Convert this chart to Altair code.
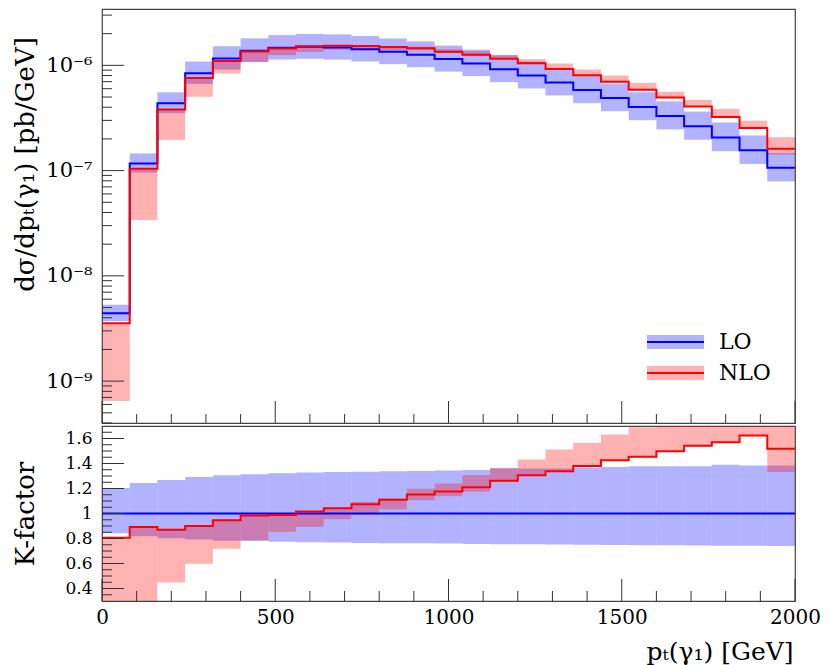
import altair as alt
import pandas as pd

# ---------------- data ----------------
bin_lo = [0, 80, 160, 240, 320, 400, 480, 560, 640, 720, 800, 880, 960,
          1040, 1120, 1200, 1280, 1360, 1440, 1520, 1600, 1680, 1760, 1840, 1920]
bin_hi = [80, 160, 240, 320, 400, 480, 560, 640, 720, 800, 880, 960, 1040,
          1120, 1200, 1280, 1360, 1440, 1520, 1600, 1680, 1760, 1840, 1920, 2000]

# LO central value dsigma/dpT [pb/GeV]
lo_central = [4.41e-9, 1.170e-7, 4.37e-7, 8.41e-7, 1.163e-6, 1.374e-6, 1.466e-6,
              1.498e-6, 1.476e-6, 1.422e-6, 1.345e-6, 1.260e-6, 1.146e-6, 1.044e-6,
              9.17e-7, 8.00e-7, 6.88e-7, 5.83e-7, 4.90e-7, 4.03e-7, 3.30e-7,
              2.64e-7, 2.06e-7, 1.559e-7, 1.064e-7]

# K-factor (NLO / LO central)
k_factor = [0.806, 0.892, 0.870, 0.901, 0.947, 0.985, 0.988, 1.016, 1.042, 1.075,
            1.111, 1.152, 1.177, 1.210, 1.263, 1.307, 1.339, 1.380, 1.427, 1.455,
            1.499, 1.542, 1.570, 1.625, 1.518]

# LO scale band, relative to LO central
lo_band_up = [1.205, 1.245, 1.268, 1.292, 1.307, 1.315, 1.322, 1.328, 1.333, 1.334,
              1.339, 1.341, 1.344, 1.349, 1.362, 1.360, 1.360, 1.368, 1.373, 1.379,
              1.379, 1.379, 1.391, 1.384, 1.384]
lo_band_dn = [0.842, 0.819, 0.803, 0.792, 0.783, 0.780, 0.775, 0.771, 0.768, 0.765,
              0.763, 0.762, 0.760, 0.757, 0.755, 0.754, 0.752, 0.750, 0.749, 0.747,
              0.746, 0.744, 0.742, 0.742, 0.741]

# NLO scale band, relative to LO central
nlo_band_up = [0.810, 0.895, 0.874, 0.905, 0.950, 0.990, 0.992, 1.020, 1.045, 1.092,
               1.120, 1.198, 1.240, 1.307, 1.363, 1.432, 1.512, 1.565, 1.632, 1.690,
               1.700, 1.780, 1.870, 1.910, 1.950]
nlo_band_dn = [0.147, 0.290, 0.448, 0.598, 0.718, 0.787, 0.853, 0.893, 0.955, 0.990,
               1.032, 1.107, 1.139, 1.175, 1.255, 1.300, 1.335, 1.375, 1.422, 1.450,
               1.495, 1.538, 1.566, 1.620, 1.333]

top_major = [1e-9, 1e-8, 1e-7, 1e-6]
top_minor = [m * 10.0 ** e for e in range(-10, -5) for m in range(2, 10)
             if 4.0e-10 <= m * 10.0 ** e <= 3.43e-6]
x_major = [0, 500, 1000, 1500, 2000]
x_minor = [100, 200, 300, 400, 600, 700, 800, 900, 1100, 1200, 1300, 1400,
           1600, 1700, 1800, 1900]
k_major = [0.4, 0.6, 0.8, 1.0, 1.2, 1.4, 1.6]
k_minor = [0.35, 0.45, 0.5, 0.55, 0.65, 0.7, 0.75, 0.85, 0.9, 0.95, 1.05, 1.1,
           1.15, 1.25, 1.3, 1.35, 1.45, 1.5, 1.55, 1.65]

# ---------------- tables ----------------
df = pd.DataFrame({"x0": bin_lo, "x1": bin_hi, "lo": lo_central, "k": k_factor,
                   "lo_up": lo_band_up, "lo_dn": lo_band_dn,
                   "nlo_up": nlo_band_up, "nlo_dn": nlo_band_dn})
df["nlo"] = df["lo"] * df["k"]
df["lo_up_abs"] = df["lo"] * df["lo_up"]
df["lo_dn_abs"] = df["lo"] * df["lo_dn"]
df["nlo_up_abs"] = df["lo"] * df["nlo_up"]
df["nlo_dn_abs"] = df["lo"] * df["nlo_dn"]

steps = pd.DataFrame({
    "x": bin_lo + [bin_hi[-1]],
    "lo": lo_central + [lo_central[-1]],
    "nlo": list(df["nlo"]) + [df["nlo"].iloc[-1]],
    "k": k_factor + [k_factor[-1]],
    "one": [1.0] * (len(bin_lo) + 1),
})

FONT = "DejaVu Serif"
BLUE = "#0000ff"
RED = "#ff0000"
TICK = "#333333"
W = 693
H_TOP = 414
H_BOT = 175

xs = alt.Scale(domain=[0, 2000], nice=False, zero=False)
ys_top = alt.Scale(type="log", domain=[4.0e-10, 3.43e-6], nice=False)
ys_bot = alt.Scale(domain=[0.3, 1.7], nice=False, zero=False)

# axes (the same object is given to every layer of a panel so they merge)
x_axis_top = alt.Axis(labels=False, ticks=False, domain=False, title=None, grid=False)
y_axis_top = alt.Axis(
    values=top_major,
    labelExpr="datum.value < 5e-9 ? '10⁻⁹' : datum.value < 5e-8 ? '10⁻⁸' : datum.value < 5e-7 ? '10⁻⁷' : '10⁻⁶'",
    labelFont=FONT, titleFont=FONT,
    labelFontSize=21, labelPadding=10, tickSize=0, ticks=False, domain=False, grid=False,
    title="dσ/dpₜ(γ₁) [pb/GeV]", titleFontSize=26,
    titleX=-77, titleY=155, titleAngle=-90, titleAlign="center", titleBaseline="middle",
)
x_axis_bot = alt.Axis(
    values=x_major, format="d", labelFontSize=20, labelPadding=6, tickSize=0,
    labelFont=FONT, titleFont=FONT,
    ticks=False, domain=False, grid=False,
    labelFlush=False, labelOverlap=False,
    title="pₜ(γ₁) [GeV]", titleFontSize=25, titleX=W - 2, titleY=50,
    titleAlign="right", titleBaseline="middle",
)
y_axis_bot = alt.Axis(
    values=k_major, labelExpr="datum.value == 1 ? '1' : format(datum.value, '.1f')",
    labelFont=FONT, titleFont=FONT,
    labelFontSize=17, labelPadding=10, tickSize=0, ticks=False, domain=False, grid=False,
    title="K-factor", titleFontSize=26, titleX=-77, titleY=H_BOT / 2,
    titleAngle=-90, titleAlign="center", titleBaseline="middle",
)


def band(cols, color, ys, xax, yax):
    return alt.Chart(df).mark_rect(color=color, opacity=0.3, clip=True).encode(
        x=alt.X("x0:Q", scale=xs, axis=xax), x2="x1:Q",
        y=alt.Y(cols[0] + ":Q", scale=ys, axis=yax), y2=cols[1] + ":Q")


def step(col, color, ys, xax, yax):
    return alt.Chart(steps).mark_line(interpolate="step-after", color=color,
                                      strokeWidth=2, clip=True).encode(
        x=alt.X("x:Q", scale=xs, axis=xax), y=alt.Y(col + ":Q", scale=ys, axis=yax))


def yticks(vals, ys, length, yax):
    return alt.Chart(pd.DataFrame({"v": vals})).mark_rule(color=TICK, strokeWidth=1).encode(
        y=alt.Y("v:Q", scale=ys, axis=yax), x=alt.value(0), x2=alt.value(length))


def xticks(vals, height, length, xax):
    return alt.Chart(pd.DataFrame({"v": vals})).mark_rule(color=TICK, strokeWidth=1).encode(
        x=alt.X("v:Q", scale=xs, axis=xax), y=alt.value(height), y2=alt.value(height - length))


# legend (drawn inside the top panel)
leg_x0, leg_x1, leg_tx = 545, 602, 617
leg_y = [333, 364]
legend_layers = []
for lab, col, yy in [("LO", BLUE, leg_y[0]), ("NLO", RED, leg_y[1])]:
    one = pd.DataFrame({"label": [lab]})
    legend_layers.append(alt.Chart(one).mark_rect(color=col, opacity=0.3).encode(
        x=alt.value(leg_x0), x2=alt.value(leg_x1), y=alt.value(yy - 7), y2=alt.value(yy + 7)))
    legend_layers.append(alt.Chart(one).mark_rule(color=col, strokeWidth=2).encode(
        x=alt.value(leg_x0), x2=alt.value(leg_x1), y=alt.value(yy)))
    legend_layers.append(alt.Chart(one).mark_text(align="left", baseline="middle",
                                                  font=FONT, fontSize=22, color="#000").encode(
        x=alt.value(leg_tx), y=alt.value(yy), text="label:N"))

top = alt.layer(
    band(("lo_dn_abs", "lo_up_abs"), BLUE, ys_top, x_axis_top, y_axis_top),
    band(("nlo_dn_abs", "nlo_up_abs"), RED, ys_top, x_axis_top, y_axis_top),
    step("lo", BLUE, ys_top, x_axis_top, y_axis_top),
    step("nlo", RED, ys_top, x_axis_top, y_axis_top),
    yticks(top_major, ys_top, 22, y_axis_top), yticks(top_minor, ys_top, 10, y_axis_top),
    xticks(x_major, H_TOP, 22, x_axis_top), xticks(x_minor, H_TOP, 9, x_axis_top),
    *legend_layers,
).properties(width=W, height=H_TOP)

bottom = alt.layer(
    band(("lo_dn", "lo_up"), BLUE, ys_bot, x_axis_bot, y_axis_bot),
    band(("nlo_dn", "nlo_up"), RED, ys_bot, x_axis_bot, y_axis_bot),
    step("one", BLUE, ys_bot, x_axis_bot, y_axis_bot),
    step("k", RED, ys_bot, x_axis_bot, y_axis_bot),
    yticks(k_major, ys_bot, 22, y_axis_bot), yticks(k_minor, ys_bot, 10, y_axis_bot),
    xticks(x_major, H_BOT, 22, x_axis_bot), xticks(x_minor, H_BOT, 10, x_axis_bot),
).properties(width=W, height=H_BOT)

chart = alt.vconcat(top, bottom, spacing=0).properties(
    padding={"left": 3, "top": 0, "right": 0, "bottom": 0}
).configure_view(
    stroke="#444444", strokeWidth=1.2
).configure_axis(
    labelColor="#000", titleColor="#000", titleFontWeight="normal",
)

chart.save("out.html", embed_options={"renderer": "svg", "actions": False})
